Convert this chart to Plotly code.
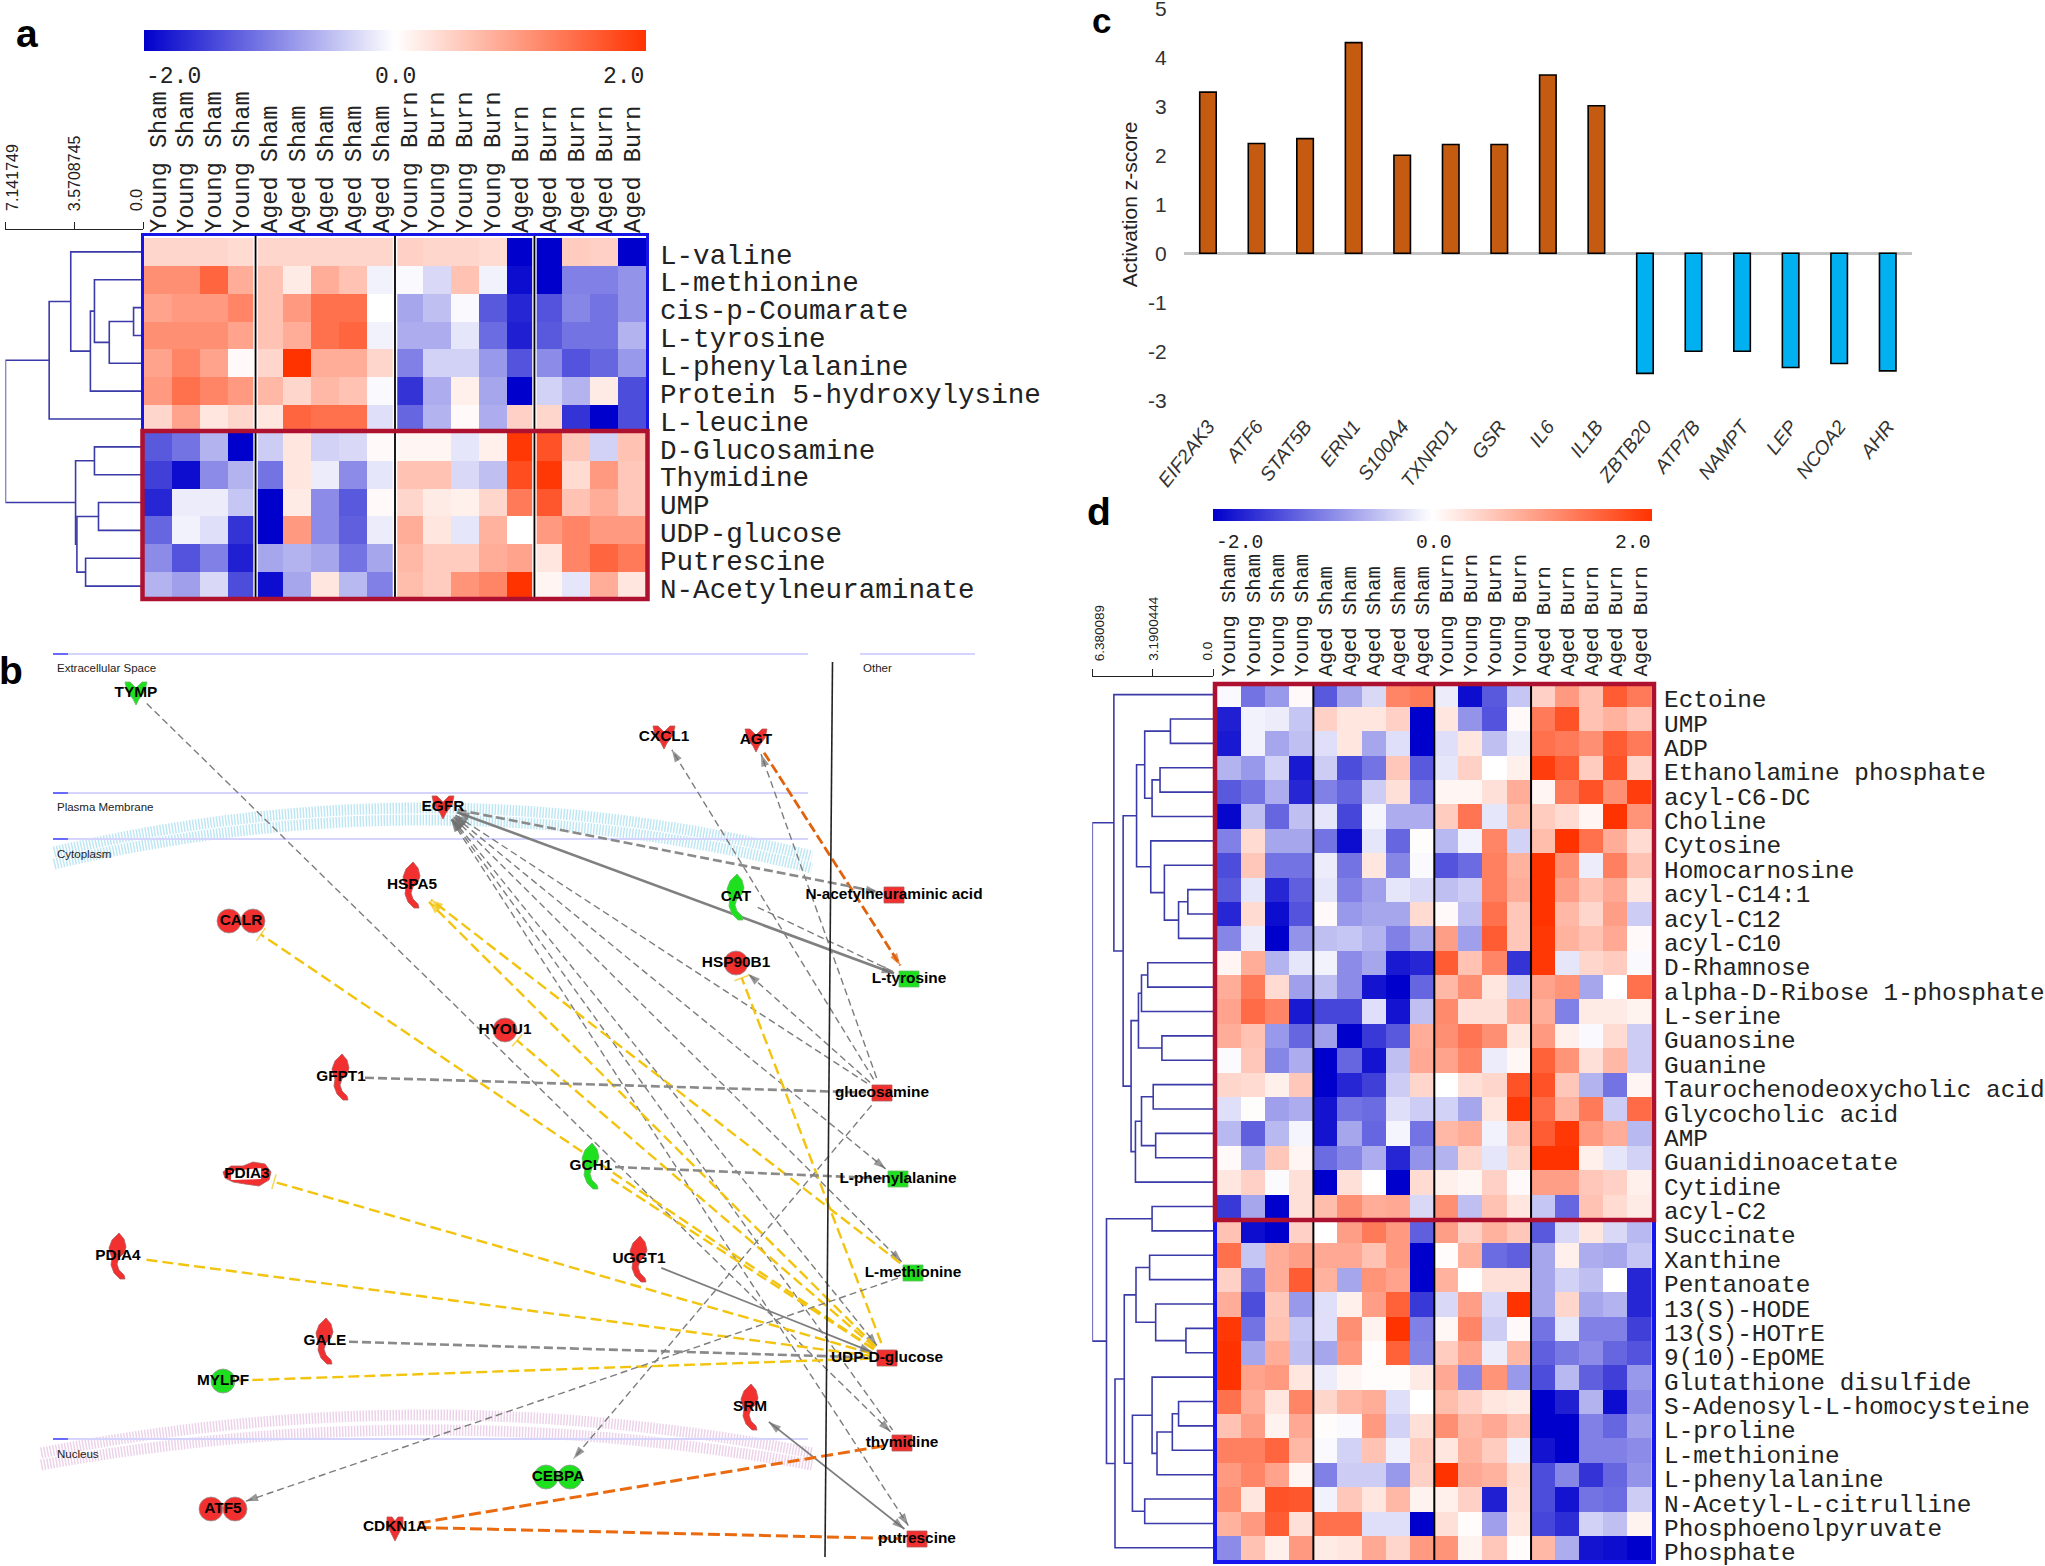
import plotly.graph_objects as go

W, H = 2045, 1566
def dx(a, b): return [a / W, b / W]
def dy(t, b): return [1 - b / H, 1 - t / H]

# ---------- panel a ----------
cols_a = ["Young Sham"] * 4 + ["Aged Sham"] * 5 + ["Young Burn"] * 4 + ["Aged Burn"] * 5
rows_a = ["L-valine", "L-methionine", "cis-p-Coumarate", "L-tyrosine", "L-phenylalanine",
          "Protein 5-hydroxylysine", "L-leucine", "D-Glucosamine", "Thymidine", "UMP",
          "UDP-glucose", "Putrescine", "N-Acetylneuraminate"]
z_a = [
 [.4,.4,.4,.35,.4,.4,.4,.4,.4,.45,.4,.4,.35,-2,-2,.5,.45,-2],
 [1.1,1.1,1.5,.8,.6,.2,.8,.6,-.1,-.05,-.3,.6,-.1,-1.9,-2,-1,-1,-.85],
 [.9,1,1,1.2,.6,1,1.4,1.4,0,-.7,-.5,-.05,-1.3,-1.7,-1.35,-.95,-1.1,-.85],
 [1.1,1.1,1.1,.9,.6,.8,1.4,1.5,-.1,-.65,-.65,-.2,-1.15,-1.75,-1.3,-1.1,-1.1,-.6],
 [.9,1.2,.9,.05,.4,2,.8,.8,.4,-1,-.35,-.35,-.8,-1.35,-.9,-1.35,-1.2,-.8],
 [1,1.4,1.2,1,.7,.4,.7,.6,-.05,-1.6,-.65,.15,-.7,-2,-.35,-.6,.2,-1.4],
 [.4,.9,.25,.4,.25,1.5,1.4,1.4,-.25,-1.2,-.6,.05,-.65,.45,.4,-1.6,-2,-1.4],
 [-1.3,-1.1,-.6,-2,-.4,.25,-.35,-.3,.05,.1,.1,-.2,.15,1.95,1.7,.55,-.35,.6],
 [-1.5,-1.9,-.9,-.6,-1.1,.25,-.15,-.9,-.2,.6,.6,-.3,-.5,1.75,1.95,.35,1,.55],
 [-1.7,-.15,-.15,-.45,-2,.2,-.9,-1.3,.05,.4,.2,.15,.4,1.3,1.65,.6,.8,.55],
 [-1.2,-.1,-.25,-1.6,-2,1,-.9,-1.25,-.15,.8,.25,-.2,.75,0,1,1.2,1,1],
 [-.9,-1.35,-1,-1.75,-.7,-.6,-.7,-1.1,-.7,.7,.5,.5,.8,.9,.25,1.2,1.5,1.3],
 [-.6,-.75,-.3,-1.4,-1.9,-.7,.25,-.55,-1,.65,.5,1.05,1.2,2,.1,-.2,.8,.25],
]
merges_a = [(2,3,.49),(13,4,1.75),(1,14,2.52),(15,5,2.73),(0,16,3.75),(17,6,4.87),(7,8,2.52),
            (9,10,2.31),(11,12,2.98),(20,21,3.43),(19,22,3.5),(18,23,7.14)]
dist_a_ticks = [7.141749, 3.5708745, 0.0]
dist_a_text = ["7.141749", "3.5708745", "0.0"]

# ---------- panel d ----------
cols_d = cols_a
rows_d = ["Ectoine","UMP","ADP","Ethanolamine phosphate","acyl-C6-DC","Choline","Cytosine","Homocarnosine",
          "acyl-C14:1","acyl-C12","acyl-C10","D-Rhamnose","alpha-D-Ribose 1-phosphate","L-serine","Guanosine",
          "Guanine","Taurochenodeoxycholic acid","Glycocholic acid","AMP","Guanidinoacetate","Cytidine","acyl-C2",
          "Succinate","Xanthine","Pentanoate","13(S)-HODE","13(S)-HOTrE","9(10)-EpOME","Glutathione disulfide",
          "S-Adenosyl-L-homocysteine","L-proline","L-methionine","L-phenylalanine","N-Acetyl-L-citrulline",
          "Phosphoenolpyruvate","Phosphate"]
z_d = [
 [-.05,-1.1,-.8,.05,-1.3,-.7,-.3,1.2,1.3,-.15,-1.9,-1.3,-.45,.45,1,.6,1.6,1.3],
 [-1.75,-.1,-.15,-.45,.45,.25,.25,.45,-2,.25,-.85,-1.35,.05,1.3,1.7,.6,.75,.55],
 [-1.8,-.1,-.7,-.5,-.25,.25,-.7,-.25,-2,-.25,.25,-.5,-.15,1.4,1.3,1.1,1.6,1.3],
 [-.6,-.8,-.35,-1.8,-.4,-1.4,-1.1,.55,-1.3,-.2,.45,0,.15,1.9,1.6,.5,1.7,.4],
 [-1.3,-1.1,-.65,-1.7,-1,-1.2,-.4,.3,-1.1,.1,.1,.3,.8,.1,1.3,1.7,1.1,1.9],
 [-1.95,-.5,-1.2,-.5,-.2,-1.45,-.08,-.65,-.65,.5,1.35,-.2,.65,.5,.35,.1,2,1.05],
 [-1,.35,-.7,-.7,-1.1,-1.9,-.2,-1.2,.02,-.55,-.1,1.2,-.35,.65,2,1.4,.8,.35],
 [-1.4,.55,-1.1,-1.1,-.15,-1.1,.25,-.95,-.05,-1.35,-1.15,1.25,.75,2,1.1,-.15,1.25,.6],
 [-1.3,-.2,-1.7,-1.25,-.2,-1,-.75,-.2,-.3,-.5,-.4,1.25,.8,2,.95,.6,.85,.25],
 [-1.7,.35,-1.9,-1.35,.05,-.8,-.7,-.7,.35,.05,-.5,1.4,.55,2,.7,.4,.95,-.4],
 [-.95,-.15,-2,-.85,-.5,-.45,-.6,-1,-.7,.95,-.75,1.6,.55,1.95,.75,.6,.85,.05],
 [.1,.8,-.6,-.2,-.1,-.9,-.7,-1.8,-1.7,1.6,.6,1.2,-1.6,1.95,-.2,.4,.5,-.05],
 [.8,1.3,.35,-.75,-.5,-.9,-1.85,-2,-1.2,.7,1.1,.25,-.4,.9,1.05,-.7,0,1.4],
 [.9,1.45,1.2,-1.8,-1.45,-1.45,-.25,-1.85,-.5,1.15,.3,.3,.8,.8,-1,.2,.2,.12],
 [.8,.6,-.8,-1.2,-.75,-2,-1.55,-1.3,.8,1.1,1.35,1.1,.25,1,.15,-.05,.35,-.4],
 [-.03,.55,-.95,-.65,-2,-1.2,-1.85,-.5,.85,.9,1.2,-.15,.08,1.55,1.05,.3,.7,-.4],
 [.4,.35,.15,.55,-2,-1.7,-1.5,-.4,.4,0,.3,.4,1.7,1.7,.55,-.6,-1.1,.1],
 [-.25,.02,-.75,-.65,-1.85,-1.1,-1.15,-.25,-.4,-.35,-.7,.25,1.95,1.45,.75,1.3,-.4,1.45],
 [-.55,-1.25,-.55,-.08,-1.85,-.7,-1.2,-.08,-1.1,.7,.8,-.1,.6,1.6,1.95,1,.8,-.55],
 [.05,-.6,.55,.1,-1.15,-.95,-.65,-1.7,-.85,-.6,.4,-.2,.4,2,2,.15,-.2,-.35],
 [.25,.45,-.03,.3,-2,.3,0,-2,.35,.15,.1,.45,.05,.95,.95,.55,.45,.15],
 [-1.55,-.7,-2,.3,.65,1.1,.8,.85,-.3,1.1,-.5,.6,.25,-.45,-1.2,.6,.35,.2],
 [.6,-1.9,-2,.45,0,.95,1.3,1,-1.25,.95,.45,.75,.55,-1.3,-.3,.25,-.3,-.55],
 [1.4,-.45,.8,.95,.85,.85,.6,1,-2,.03,.75,-1.15,-1.25,-.7,.15,-.65,-.7,-.45],
 [.45,-1.1,.8,1.6,.75,-.7,1.05,.9,-2,.75,0,.3,.3,-.7,-.35,-.5,0,-1.7],
 [.8,-1.4,.55,-.8,-.25,.15,.95,1.55,-1.55,-.3,.95,-.3,2,-.7,.4,-.7,-.6,-1.7],
 [1.95,-1.1,.6,-.45,-.25,1.1,.12,2,-1,.08,1.2,-.4,.05,-1.1,-.2,-1,-1,-1.5],
 [2,-.7,.8,-.5,-.7,1,.03,1.55,-.95,.5,.9,-.15,.7,-1.25,-1.05,-.9,-1.2,-1.35],
 [2,.9,1,.25,-.15,.1,.03,.03,.2,.85,-.95,1.05,-.8,-1.4,-.55,-1.25,-1.5,-.8],
 [1.4,.8,.25,1.2,.4,.7,.8,-.25,0,.65,.45,.25,.2,-2,-1.75,-.6,-1.9,-.9],
 [.6,.95,.12,.85,.02,-.05,1,-.35,.3,1.1,.7,.85,.6,-2,-2,-1,-1.2,-.75],
 [1.25,1.25,1.5,.7,-.05,-.35,.6,-.12,.5,.25,.75,.5,-.12,-1.85,-2,-1,-1,-.9],
 [1,1.2,.9,.1,-1,-.4,-.4,-.8,.45,2,.85,.75,.35,-1.4,-.95,-1.6,-1.2,-.85],
 [1.1,.25,1.7,1.65,-.1,.55,.25,.7,.12,.15,.45,-1.75,.3,-1.4,-1.85,-1.1,-1.15,-.4],
 [.75,1,1.6,.3,1.4,1.4,-.25,-.25,-2,.3,.03,-.75,.25,-1.45,-1.65,-.35,-.5,.12],
 [-.9,.6,.15,1,.2,.25,.85,.4,1,1.05,.12,.55,.03,.7,-.65,-1.85,-1.9,-2],
]
merges_d = [(1,2,2.25),(3,4,2.80),(37,5,3.22),(36,38,3.61),(8,9,1.33),(40,10,1.82),(7,41,2.57),(6,42,3.29),
            (39,43,4.04),(11,12,3.45),(45,13,3.78),(14,15,2.70),(46,47,3.94),(16,17,3.16),(18,19,3.03),
            (49,50,3.78),(51,20,4.10),(48,52,4.33),(44,53,4.75),(0,54,5.24),(21,22,3.22),(23,24,3.35),
            (26,27,1.43),(25,58,3.03),(57,59,4.07),(29,30,1.82),(61,31,2.15),(62,32,2.96),(28,63,3.22),
            (33,34,3.61),(64,65,4.26),(60,66,4.69),(67,35,5.18),(56,68,5.63),(55,69,6.38)]
dist_d_ticks = [6.380089, 3.1900444, 0.0]
dist_d_text = ["6.380089", "3.1900444", "0.0"]

# ---------- panel c ----------
genes = ["EIF2AK3","ATF6","STAT5B","ERN1","S100A4","TXNRD1","GSR","IL6","IL1B",
         "ZBTB20","ATP7B","NAMPT","LEP","NCOA2","AHR"]
zscores = [3.29,2.24,2.34,4.3,2.0,2.22,2.22,3.64,3.01,-2.45,-2.0,-2.0,-2.33,-2.25,-2.4]
zticks = [-3,-2,-1,0,1,2,3,4,5]
zticktext = ["-3","-2","-1","0","1","2","3","4","5"]

# ---------- panel b ----------
node_names = ["TYMP","CXCL1","AGT","EGFR","HSPA5","CAT","CALR","HSP90B1","HYOU1","GFPT1",
              "N-acetylneuraminic acid","L-tyrosine","glucosamine","GCH1","L-phenylalanine","PDIA3",
              "PDIA4","UGGT1","L-methionine","GALE","UDP-D-glucose","MYLPF","SRM","thymidine",
              "CEBPA","ATF5","CDKN1A","putrescine"]
node_x = [136,664,756,443,412,736,241,736,505,341,894,909,882,591,898,247,118,639,913,325,887,223,750,902,558,223,395,917]
node_y = [693,737,740,807,885,897,921,963,1030,1077,895,979,1093,1166,1179,1174,1256,1259,1273,1341,1358,1381,1407,1443,1477,1509,1527,1539]
node_kind = ["heart","heart","heart","heart","enzyme","enzyme","double","circle","circle","enzyme",
             "square","square","square","enzyme","square","blob","enzyme","enzyme","square","enzyme",
             "square","circle","enzyme","square","double","double","diamond","square"]
node_color = ["g","r","r","r","r","g","r","r","r","r","r","g","r","g","g","r","r","r","g","r","r","g","r","r","g","r","r","r"]

edges = [  # source, target, style, start end, finish end
 ("TYMP","thymidine","g","","arrow"),
 ("glucosamine","CXCL1","g","","arrow"),
 ("glucosamine","AGT","g","","arrow"),
 ("AGT","L-tyrosine","o2","","arrow"),
 ("EGFR","N-acetylneuraminic acid","G","","arrow"),
 ("L-tyrosine","EGFR","s2","arrow","arrow"),
 ("EGFR","glucosamine","g","arrow",""),
 ("EGFR","L-phenylalanine","g","arrow","arrow"),
 ("EGFR","L-methionine","g","arrow","arrow"),
 ("EGFR","UDP-D-glucose","g","arrow","arrow"),
 ("EGFR","thymidine","g","arrow",""),
 ("EGFR","putrescine","g","arrow","arrow"),
 ("CAT","L-tyrosine","g","",""),
 ("glucosamine","HSP90B1","g","","arrow"),
 ("UDP-D-glucose","HSPA5","y","","arrow"),
 ("L-methionine","HSPA5","y","","arrow"),
 ("UDP-D-glucose","CALR","y","","tbar"),
 ("UDP-D-glucose","HYOU1","y","","tbar"),
 ("UDP-D-glucose","HSP90B1","y","","tbar"),
 ("UDP-D-glucose","GCH1","y","",""),
 ("UDP-D-glucose","PDIA3","y","","tbar"),
 ("UDP-D-glucose","PDIA4","y","",""),
 ("UDP-D-glucose","MYLPF","y","",""),
 ("UGGT1","UDP-D-glucose","s","","arrow"),
 ("GALE","UDP-D-glucose","G","",""),
 ("GFPT1","glucosamine","G","",""),
 ("GCH1","L-phenylalanine","G","",""),
 ("glucosamine","CEBPA","g","","arrow"),
 ("L-methionine","ATF5","g","","arrow"),
 ("putrescine","SRM","s","arrow","arrow"),
 ("CDKN1A","thymidine","o","",""),
 ("CDKN1A","putrescine","o","",""),
]
compartments = [("Extracellular Space",654,668),("Plasma Membrane",793,807),("Cytoplasm",839,854),("Nucleus",1439,1454)]

# ---------- helpers ----------
MONO = "Liberation Mono"
SANS = "Liberation Sans"
NARROW = "Liberation Sans Narrow, Liberation Sans"
CS = [[0, "rgb(0,0,204)"], [0.5, "rgb(255,255,255)"], [1, "rgb(255,51,0)"]]
DENDRO = "#3a3aa8"

def dendro_xy(merges, n):
    ys = list(range(n)); hs = [0.0] * n; X, Y = [], []
    for a, b, h in merges:
        X += [hs[a], h, h, hs[b], None]
        Y += [ys[a], ys[a], ys[b], ys[b], None]
        ys.append((ys[a] + ys[b]) / 2); hs.append(h)
    return X, Y

fig = go.Figure()
layout = dict(width=W, height=H, margin=dict(l=0, r=0, t=0, b=0, autoexpand=False), paper_bgcolor="white", plot_bgcolor="rgba(0,0,0,0)",
              showlegend=False, hovermode=False, font=dict(family=SANS, color="black"))
anns, shapes = [], []

def heat_panel(z, rows, cols, xs, ys, dendro_span, axis_y, merges, dt, dtxt, n1, n2, ca,
               colfont, rowfont, dfont, rowshift, stand, label_bottom, label_shift):
    nr, nc = len(rows), len(cols)
    fig.add_trace(go.Heatmap(z=z, x=list(range(nc)), y=list(range(nr)), coloraxis=ca, xaxis=f"x{n1}", yaxis=f"y{n1}"))
    layout[f"xaxis{n1}"] = dict(domain=dx(*xs), range=[-.5, nc-.5], side="top", anchor=f"y{n1}", tickmode="array",
        tickvals=list(range(nc)), ticktext=cols, tickangle=-90, ticks="", showgrid=False, zeroline=False,
        tickfont=dict(family=MONO, size=colfont, color="#222"), ticklabelstandoff=stand[0], ticklabeloverflow="allow")
    layout[f"yaxis{n1}"] = dict(domain=dy(*ys), range=[nr-.5, -.5], side="right", anchor=f"x{n1}", tickmode="array",
        tickvals=list(range(nr)), ticktext=rows, ticks="", showgrid=False, zeroline=False,
        tickfont=dict(family=MONO, size=rowfont, color="#222"), ticklabelstandoff=stand[1], ticklabelshift=rowshift,
        ticklabeloverflow="allow")
    X, Y = dendro_xy(merges, nr)
    fig.add_trace(go.Scatter(x=X, y=Y, mode="lines", line=dict(color=DENDRO, width=1.6), xaxis=f"x{n2}", yaxis=f"y{n2}",
                             cliponaxis=False, connectgaps=False))
    layout[f"xaxis{n2}"] = dict(domain=dx(*dendro_span), range=[dt[0], 0], side="top", anchor="free",
        position=1 - axis_y / H, tickmode="array", tickvals=dt, ticktext=dtxt, tickangle=-90, ticks="outside", ticklen=7,
        tickcolor="#222", showline=True, linecolor="#222", linewidth=1.3, showgrid=False, zeroline=False,
        showticklabels=False)
    layout[f"yaxis{n2}"] = dict(domain=dy(*ys), range=[nr-.5, -.5], anchor=f"x{n2}", visible=False)
    for v, t, sh in zip(dt, dtxt, label_shift):
        anns.append(dict(text=t, x=v, y=label_bottom, xref=f"x{n2}", yref="y8", xshift=sh, textangle=-90, xanchor="center",
                         yanchor="bottom", showarrow=False, font=dict(family=SANS, size=dfont, color="#222")))

heat_panel(z_a, rows_a, cols_a, (144, 646), (238, 600), (5.4, 143), 229, merges_a, dist_a_ticks, dist_a_text,
           1, 2, "coloraxis", 23.6, 27.6, 16, -2, (4, 13), 213, (7, 0, -7))
heat_panel(z_d, rows_d, cols_d, (1216.6, 1652), (682.4, 1560), (1092.3, 1213), 676.4, merges_d, dist_d_ticks, dist_d_text,
           3, 4, "coloraxis2", 20.4, 24.4, 13.5, -4, (5, 11), 663, (7, 0, -6))

for key, xs, yb, th in (("coloraxis", (144, 646), 51, 21), ("coloraxis2", (1213.5, 1652), 521, 12)):
    layout[key] = dict(cmin=-2, cmax=2, colorscale=CS, colorbar=dict(
        orientation="h", x=(xs[0]+xs[1])/2/W, xanchor="center", y=1-yb/H, yanchor="bottom",
        len=(xs[1]-xs[0])/W, lenmode="fraction", thickness=th, outlinewidth=0, showticklabels=False, ticks="",
        xpad=0, ypad=0, tickvals=[-2, 0, 2]))

# bars
fig.add_trace(go.Bar(x=genes, y=zscores, width=.34, xaxis="x7", yaxis="y7",
                     marker=dict(color=["#C55A11" if v > 0 else "#00B0F0" for v in zscores], line=dict(color="black", width=1.6))))
layout["xaxis7"] = dict(domain=dx(1183.7, 1912), range=[-.5, 14.5], anchor="y7", type="category", ticks="", showgrid=False, zeroline=False,
    tickangle=-52, tickfont=dict(family=NARROW, size=19.5, style="italic", color="#333"), ticklabelstandoff=10, showline=False,
    ticklabeloverflow="allow")
layout["yaxis7"] = dict(domain=dy(8.3, 400.3), range=[-3, 5], anchor="x7", tickmode="array", tickvals=zticks, ticktext=zticktext,
    ticks="", showgrid=False, zeroline=True, zerolinecolor="#c4c4c4", zerolinewidth=3, showline=False,
    tickfont=dict(family=NARROW, size=21, color="#333"), ticklabelstandoff=16, ticklabeloverflow="allow",
    title=dict(text="Activation z-score", font=dict(family=SANS, size=21, color="#222"), standoff=4))

# network, axis in page pixels
layout["xaxis8"] = dict(domain=[0, 1], range=[0, W], visible=False, anchor="y8")
layout["yaxis8"] = dict(domain=[0, 1], range=[H, 0], visible=False, anchor="x8")
def px_line(x0, y0, x1, y1, color, width, layer="above"):
    shapes.append(dict(type="line", xref="x8", yref="y8", x0=x0, y0=y0, x1=x1, y1=y1, line=dict(color=color, width=width), layer=layer))
def arc(x0, y0, cx, cy, x1, y1, color):
    shapes.append(dict(type="path", xref="x8", yref="y8", path=f"M {x0} {y0} Q {cx} {cy} {x1} {y1}",
                       line=dict(color=color, width=11, dash="1.5px,1.5px"), layer="below"))
arc(54, 852, 433, 762, 812, 856, "#bfe7f3"); arc(54, 864, 433, 774, 812, 868, "#bfe7f3")
arc(41, 1453, 426, 1377, 812, 1453, "#ecd3ea"); arc(41, 1465, 426, 1395, 812, 1465, "#ecd3ea")
for name, ly, ty in compartments:
    px_line(53, ly, 808, ly, "#d4d4ff", 2, "below"); px_line(53, ly, 68, ly, "#6a6aff", 2, "below")
    anns.append(dict(text=name, x=55, y=ty, xref="x8", yref="y8", xanchor="left", showarrow=False, font=dict(size=11.5, family=SANS, color="#222")))
px_line(860, 654, 975, 654, "#d4d4ff", 2, "below")
anns.append(dict(text="Other", x=861, y=668, xref="x8", yref="y8", xanchor="left", showarrow=False, font=dict(size=11.5, family=SANS, color="#222")))
px_line(832.5, 662, 825, 1557, "#222", 1.6)

pos = {n: (x, y) for n, x, y in zip(node_names, node_x, node_y)}
kind = dict(zip(node_names, node_kind))
radius = {"heart": 15, "enzyme": 24, "double": 24, "circle": 16, "square": 16, "blob": 28, "diamond": 24}
styles = {"g": ("#7d7d7d", 1.4, "7px,4px"), "G": ("#8a8a8a", 2.6, "9px,4px"), "s": ("#7d7d7d", 1.8, "solid"),
          "s2": ("#808080", 2.6, "solid"), "y": ("#f2c40f", 2.4, "11px,5px"), "o": ("#ea6a10", 3, "12px,5px"),
          "o2": ("#e0620c", 2.8, "10px,4px")}
for s, t, st, ms, me in edges:
    (x0, y0), (x1, y1) = pos[s], pos[t]
    L = ((x1-x0)**2 + (y1-y0)**2) ** .5
    ux, uy = (x1-x0)/L, (y1-y0)/L
    ax, ay = x0 + ux*radius[kind[s]], y0 + uy*radius[kind[s]]
    bx, by = x1 - ux*radius[kind[t]], y1 - uy*radius[kind[t]]
    c, w, d = styles[st]
    fig.add_trace(go.Scatter(x=[ax, bx], y=[ay, by], mode="lines", line=dict(color=c, width=w, dash=d), xaxis="x8", yaxis="y8"))
    for end, (p, q) in ((me, ((ax, ay), (bx, by))), (ms, ((bx, by), (ax, ay)))):
        if end:
            sym = "arrow" if end == "arrow" else "line-ew"
            hc = "#6e6e6e" if c.startswith("#7") or c.startswith("#8") else c
            fig.add_trace(go.Scatter(x=[p[0], q[0]], y=[p[1], q[1]], mode="markers", xaxis="x8", yaxis="y8",
                marker=dict(size=[0, 13 if end == "arrow" else 11], symbol=sym, angleref="previous", color=hc,
                            line=dict(color=hc, width=0 if end == "arrow" else 1.5))))

GL = {
 "enzyme": [(1,-23),(6,-17),(8,-9),(6,-3),(1,2),(-1,8),(1,14),(6,19),(7,23),(2,23),(-4,17),(-7,9),(-6,2),(-8,-3),(-9,-8),(-6,-16)],
 "heart": [(-11,-11),(-6,-11),(0,-5),(6,-11),(11,-11),(9,-2),(3,6),(0,12),(-3,6),(-9,-2)],
 "square": [(-10,-8),(10,-8),(10,8),(-10,8)],
 "blob": [(-24,-2),(-16,-8),(-4,-8),(6,-12),(18,-10),(24,-2),(22,6),(12,12),(-2,10),(-14,8),(-22,4)],
 "diamond": [(-8,-10),(-3,-10),(0,-6),(3,-10),(8,-10),(8,-2),(3,8),(0,14),(-3,8),(-8,-2)],
}
RED, GREEN = "#f23030", "#1fe01f"
for col, fc in (("r", RED), ("g", GREEN)):
    X, Y = [], []
    for n, k, c in zip(node_names, node_kind, node_color):
        if c == col and k in GL:
            pts = GL[k]
            X += [pos[n][0]+a for a, b in pts] + [pos[n][0]+pts[0][0], None]
            Y += [pos[n][1]+b for a, b in pts] + [pos[n][1]+pts[0][1], None]
    fig.add_trace(go.Scatter(x=X, y=Y, mode="lines", fill="toself", fillcolor=fc, line=dict(color="#b05a5a" if col == "r" else "#66bb66", width=.8),
                             xaxis="x8", yaxis="y8"))
    MX, MY = [], []
    for n, k, c in zip(node_names, node_kind, node_color):
        if c == col and k == "circle":
            MX.append(pos[n][0]); MY.append(pos[n][1])
        if c == col and k == "double":
            MX += [pos[n][0]-12, pos[n][0]+12]; MY += [pos[n][1]]*2
    fig.add_trace(go.Scatter(x=MX, y=MY, mode="markers", marker=dict(size=24, color=fc, line=dict(color="#999", width=.8)), xaxis="x8", yaxis="y8"))
# hollow centre of PDIA3
fig.add_trace(go.Scatter(x=[pos["PDIA3"][0]+a for a in (-16,14,14,-16,-16)], y=[pos["PDIA3"][1]+b for b in (-3,-6,5,6,-3)],
                         mode="lines", fill="toself", fillcolor="white", line=dict(color="white", width=0), xaxis="x8", yaxis="y8"))
fig.add_trace(go.Scatter(x=node_x, y=node_y, text=node_names, mode="text", xaxis="x8", yaxis="y8",
                         textfont=dict(family=SANS, size=15.4, color="black", weight="bold")))

# separators and boxes
for v in (3.5, 8.5, 13.5):
    x = 144 + (v + .5) * (502/18)
    px_line(x, 236, x, 600, "white", 4.5); px_line(x, 236, x, 600, "black", 1.8)
for v in (3.5, 8.5, 12.5):
    x = 1216.6 + (v + .5) * (435.4/18)
    px_line(x, 684, x, 1560, "black", 2)
def box(x0, y0, x1, y1, color, w):
    shapes.append(dict(type="rect", xref="x8", yref="y8", x0=x0, y0=y0, x1=x1, y1=y1, line=dict(color=color, width=w), layer="above"))
box(142.5, 234.5, 647.5, 431, "#1515e8", 3)
box(142.5, 431, 647.5, 599, "#ae1030", 4.5)
box(1215, 1220, 1654, 1562, "#1515f0", 4)
box(1215, 684, 1654, 1220, "#ae1030", 4.5)

# colour bar labels and panel letters
def label(text, x, y, size, anchor, family=MONO, bold=False):
    anns.append(dict(text=text, x=x, y=y, xref="x8", yref="y8", xanchor=anchor, yanchor="middle", showarrow=False,
                     font=dict(family=family, size=size, color="#222" if not bold else "black", weight="bold" if bold else "normal")))
for t, x, a in (("-2.0", 144, "left"), ("0.0", 395, "center"), ("2.0", 646, "right")):
    label(t, x, 77, 23, a)
for t, x, a in (("-2.0", 1213.5, "left"), ("0.0", 1433, "center"), ("2.0", 1652, "right")):
    label(t, x, 543, 19.7, a)
for t, x, y, s in (("a", 27, 33, 39), ("b", 11, 670, 39), ("c", 1101, 20, 35), ("d", 1099, 511, 39)):
    label(t, x, y, s, "center", SANS, True)

layout["annotations"] = anns
layout["shapes"] = shapes
fig.update_layout(**layout)
fig.write_html("out.html", config=dict(displayModeBar=False),
               post_script="document.body.style.margin='0';document.body.style.overflow='hidden';")
